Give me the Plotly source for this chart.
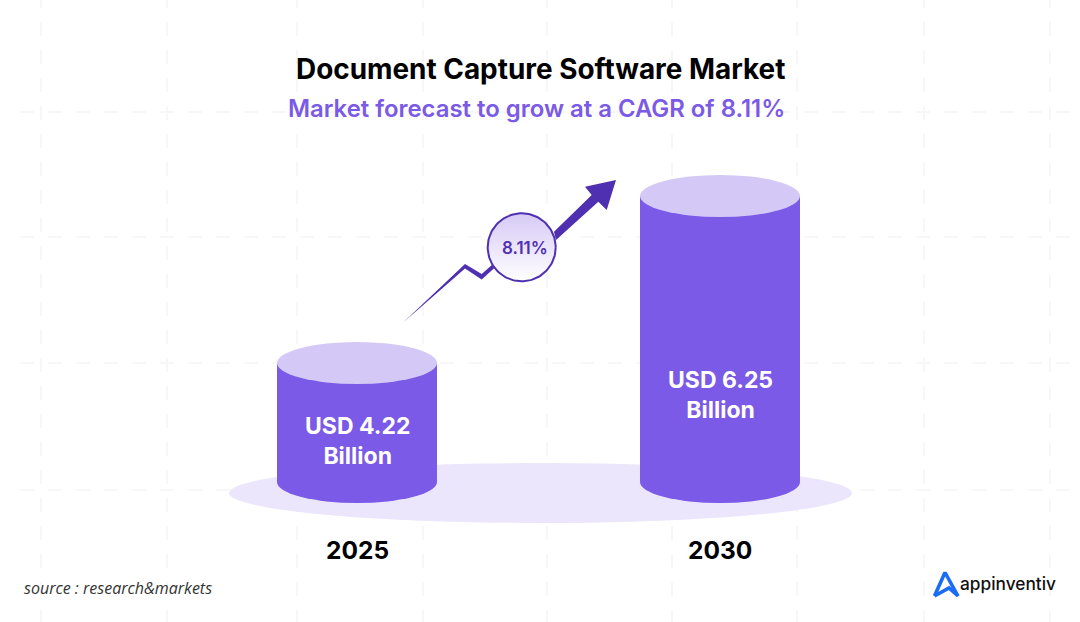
import numpy as np
import plotly.graph_objects as go

# chart values
years = ["2025", "2030"]
market_usd_bn = [4.22, 6.25]
cagr_label = "8.11%"
title_text = "Document Capture Software Market"
subtitle_text = "Market forecast to grow at a CAGR of 8.11%"
source_text = "source : research&markets"
brand_text = "appinventiv"

W, H = 1080, 622
PURPLE = "#7a5ae6"
LIGHT = "#d4c8f6"
PALE = "#ebe6fb"
DARK = "#4f30b0"
GRID = "#f5f5f5"
BLUE = "#1a6cf5"
FONT = "Inter"

# cylinder scale: the picture does not start at zero, so the axis is cut to fit
px_per_bn = (363 - 196) / (market_usd_bn[1] - market_usd_bn[0])
y_top = market_usd_bn[0] + 363 / px_per_bn
y_bottom = market_usd_bn[0] - (H - 363) / px_per_bn
base_bn = market_usd_bn[0] - (482 - 363) / px_per_bn
px_per_cat = 720 - 357
x_left = -357 / px_per_cat
x_right = (W - 357) / px_per_cat
bar_w = 160 / px_per_cat
rim = 21 / px_per_bn

fig = go.Figure()

fig.add_trace(go.Bar(x=[0, 1], y=[v - base_bn for v in market_usd_bn], base=base_bn,
                     width=bar_w, marker=dict(color=PURPLE, line=dict(width=0)),
                     hoverinfo="skip", showlegend=False))

# arrow, in picture pixels
tail_x = [403.5, 465, 481.7, 493, 495.5, 481.7, 465]
tail_y = [322.3, 264, 274, 264, 267, 279.5, 268.5]
head_x = [554, 591.7, 585, 616, 606.7, 598.3, 556]
head_y = [231.7, 195, 186.7, 180, 210, 201.7, 240]
for ax, ay in [(tail_x, tail_y), (head_x, head_y)]:
    fig.add_trace(go.Scatter(x=ax, y=ay, xaxis="x2", yaxis="y2", mode="lines", fill="toself",
                             fillcolor=DARK, line=dict(width=0), hoverinfo="skip", showlegend=False))

# badge with the pale gradient
t = np.linspace(0, 2 * np.pi, 121)
fig.add_trace(go.Scatter(x=521.7 + 34 * np.cos(t), y=247.3 + 34 * np.sin(t), xaxis="x2", yaxis="y2",
                         mode="lines", fill="toself",
                         fillgradient=dict(type="vertical", colorscale=[[0, "#ffffff"], [1, "#d6c9f5"]]),
                         line=dict(color=DARK, width=2), hoverinfo="skip", showlegend=False))

# logo mark
fig.add_trace(go.Scatter(x=[934.5, 945, 958, 949, 934.5], y=[596, 572.5, 596, 588, 596], xaxis="x2", yaxis="y2",
                         mode="lines", line=dict(color=BLUE, width=3.6, shape="linear"),
                         hoverinfo="skip", showlegend=False))

shapes = []
# dashed background grid
for gy in [112, 237, 363, 490]:
    shapes.append(dict(type="line", xref="x2", yref="y2", x0=20, x1=W, y0=gy, y1=gy, layer="below",
                       line=dict(color=GRID, width=1.6, dash="14px,14px")))
for gx in [41, 167, 297, 423, 547, 672, 797, 924, 1050]:
    shapes.append(dict(type="line", xref="x2", yref="y2", x0=gx, x1=gx, y0=-6, y1=H, layer="below",
                       line=dict(color=GRID, width=1.6, dash="14px,14px")))
# floor ellipse
shapes.append(dict(type="circle", xref="x2", yref="y2", x0=229, x1=852, y0=463, y1=523, layer="below",
                   fillcolor=PALE, line=dict(width=0)))
# cylinder ends
for i, v in enumerate(market_usd_bn):
    shapes.append(dict(type="circle", xref="x", yref="y", x0=i - bar_w / 2, x1=i + bar_w / 2,
                       y0=base_bn - rim, y1=base_bn + rim, layer="below",
                       fillcolor=PURPLE, line=dict(width=0)))
    shapes.append(dict(type="circle", xref="x", yref="y", x0=i - bar_w / 2, x1=i + bar_w / 2,
                       y0=v - rim, y1=v + rim, layer="above",
                       fillcolor=LIGHT, line=dict(width=0)))

def label(text, x, y, size, color, weight=400, xref="x2", yref="y2", anchor="center", family=FONT, style="normal"):
    return dict(text=text, x=x, y=y, xref=xref, yref=yref, showarrow=False, xanchor=anchor, yanchor="middle",
                font=dict(family=family, size=size, color=color, weight=weight, style=style))

annotations = [
    label(title_text, 540.5, 69, 27.9, "#000000", 700),
    label(subtitle_text, 536.5, 108, 23.9, PURPLE, 600),
    label(cagr_label, 525, 248, 17, DARK, 600),
    label(source_text, 22, 588, 16, "#333333", anchor="left", family="Open Sans", style="italic"),
    label(brand_text, 957.5, 583, 17.3, "#111111", 500, anchor="left"),
]
for i, (yr, v) in enumerate(zip(years, market_usd_bn)):
    annotations.append(label(f"USD {v:.2f}<br>Billion", i, [441, 395][i], 23, "#ffffff", 700, xref="x"))
    annotations.append(label(yr, i, 550, 24.5, "#000000", 700, xref="x"))

fig.update_layout(
    width=W, height=H, margin=dict(l=0, r=0, t=0, b=0),
    paper_bgcolor="white", plot_bgcolor="white", showlegend=False,
    xaxis=dict(range=[x_left, x_right], visible=False, fixedrange=True),
    yaxis=dict(range=[y_bottom, y_top], visible=False, fixedrange=True),
    xaxis2=dict(range=[0, W], visible=False, overlaying="x", fixedrange=True),
    yaxis2=dict(range=[H, 0], visible=False, overlaying="y", fixedrange=True),
    shapes=shapes, annotations=annotations,
)

# page body has a default margin that would shift the figure
fig.write_html("out.html", config=dict(displayModeBar=False), post_script="document.body.style.margin='0';")
